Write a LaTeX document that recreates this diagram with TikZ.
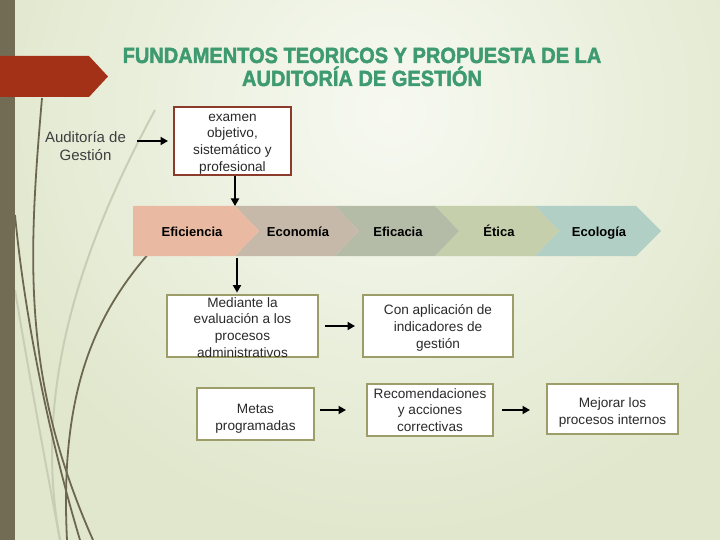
\documentclass[tikz,border=0pt]{standalone}
\usepackage{fontspec}
\setmainfont{Liberation Sans}
\newfontfamily\titlefont{Liberation Sans Bold}[FakeBold=2.2]
\usetikzlibrary{arrows.meta}
\newcommand{\fls}[1]{\rule{0pt}{#1pt}}
\definecolor{bgbase}{HTML}{E0E7CC}
\definecolor{bglight}{HTML}{F7F9F1}
\definecolor{barcol}{HTML}{736C54}
\definecolor{curvedark}{HTML}{6E6750}
\definecolor{curvelight}{HTML}{CACDB6}
\definecolor{redarrow}{HTML}{A33117}
\definecolor{titlegreen}{HTML}{3E9A70}
\definecolor{brownbox}{HTML}{8A3B2A}
\definecolor{olivebox}{HTML}{9C9D68}
\definecolor{textgray}{HTML}{2A2A2A}
\definecolor{cEfi}{HTML}{E9B9A2}
\definecolor{cEco}{HTML}{C7B9A9}
\definecolor{cEfc}{HTML}{B4BBA7}
\definecolor{cEti}{HTML}{C5CFAB}
\definecolor{cEcl}{HTML}{B1CFC4}
\begin{document}
\begin{tikzpicture}[x=1pt,y=-1pt,
  box/.style={draw=olivebox, line width=2pt, fill=white, align=center,
    font=\fontsize{13.6}{16.7}\selectfont, text=textgray, inner sep=0pt},
  arr/.style={-{Triangle[length=7.5pt,width=8pt]}, line width=2pt, black},
  chevlabel/.style={font=\bfseries\fontsize{13}{15}\selectfont, text=black, inner sep=0pt, anchor=base},
  titletext/.style={font=\titlefont\fontsize{22}{26}\selectfont, text=titlegreen, inner sep=0pt, anchor=base},
  darkcurve/.style={draw=curvedark, line width=1.8pt},
  lightcurve/.style={draw=curvelight, line width=2pt}]
\useasboundingbox (0,0) rectangle (720,540);
% background
\fill[bgbase] (0,0) rectangle (720,540);
\begin{scope}
\clip (0,0) rectangle (720,540);
\shade[inner color=bglight, outer color=bgbase] (390,110) circle (430);
\end{scope}
% decorative curves
\draw[lightcurve] (155,110) .. controls (90,230) and (30,380) .. (60,540);
\draw[lightcurve] (15,290) .. controls (30,380) and (45,460) .. (60,540);
\draw[darkcurve] (42,98) .. controls (28,260) and (22,380) .. (93,540);
\draw[darkcurve] (15,215) .. controls (25,320) and (50,440) .. (80,540);
\draw[darkcurve] (150,252) .. controls (90,320) and (60,400) .. (67,540);
% left bar and red arrow
\fill[barcol] (0,0) rectangle (15,540);
\fill[redarrow] (0,56) -- (89,56) -- (108,76.5) -- (89,97) -- (0,97) -- cycle;
% title
\node[titletext] (t1) at (362,63) {\scalebox{0.91}[1]{FUNDAMENTOS TEORICOS Y PROPUESTA DE LA}};
\node[titletext] (t2) at (362,86) {\scalebox{0.91}[1]{AUDITORÍA DE GESTIÓN}};
% chevron band
\fill[cEcl] (535,206) -- (636,206) -- (661,231) -- (636,256) -- (535,256) -- (559,231) -- cycle;
\fill[cEti] (435,206) -- (535,206) -- (559,231) -- (535,256) -- (435,256) -- (459,231) -- cycle;
\fill[cEfc] (335,206) -- (435,206) -- (459,231) -- (435,256) -- (335,256) -- (359,231) -- cycle;
\fill[cEco] (235,206) -- (335,206) -- (359,231) -- (335,256) -- (235,256) -- (259,231) -- cycle;
\fill[cEfi] (133,206) -- (235,206) -- (259,231) -- (235,256) -- (133,256) -- cycle;
\node[chevlabel] (lEfi) at (192,236.5) {Eficiencia};
\node[chevlabel] (lEco) at (298,236.5) {Economía};
\node[chevlabel] (lEfc) at (398,236.5) {Eficacia};
\node[chevlabel] (lEti) at (499,236.5) {Ética};
\node[chevlabel] (lEcl) at (599,236.5) {Ecología};
\coordinate (chevtop) at (235,206);
\coordinate (chevbot) at (237,256);
% text and boxes
\node[align=center, font=\fontsize{15}{18}\selectfont, text=textgray!90, inner sep=0pt] (aud) at (85.5,146) {Auditoría de\\Gestión};
\node[box, draw=brownbox, minimum width=117pt, minimum height=68pt] (b1) at (232.5,141) {\fls{13.2}examen\\objetivo,\\sistemático y\\profesional};
\node[box, minimum width=151pt, minimum height=62pt] (med) at (242.5,326) {\fls{12.5}Mediante la\\evaluación a los\\procesos\\administrativos};
\node[box, minimum width=150pt, minimum height=62pt] (con) at (438,326) {\fls{14}Con aplicación de\\indicadores de\\gestión};
\node[box, minimum width=117pt, minimum height=52pt] (met) at (255.5,414) {\fls{19.5}Metas\\programadas};
\node[box, minimum width=126pt, minimum height=52pt] (rec) at (430,410) {Recomendaciones\\y acciones\\correctivas};
\node[box, minimum width=131pt, minimum height=50pt] (mej) at (612.5,409) {\fls{17.5}Mejorar los\\procesos internos};
% connectors
\draw[arr, shorten <=11pt, shorten >=5pt] (aud.east |- b1.west) -- (b1.west);
\draw[arr] (b1.south -| chevtop) -- (chevtop);
\draw[arr, shorten <=2pt, shorten >=1pt] (chevbot) -- (chevbot |- med.north);
\draw[arr, shorten <=6pt, shorten >=7pt] (med.east) -- (con.west);
\draw[arr, shorten <=5pt, shorten >=20pt] (met.east |- rec.west) -- (rec.west);
\draw[arr, shorten <=8pt, shorten >=16pt] (rec.east) -- (rec.east -| mej.west);
\end{tikzpicture}
\end{document}
